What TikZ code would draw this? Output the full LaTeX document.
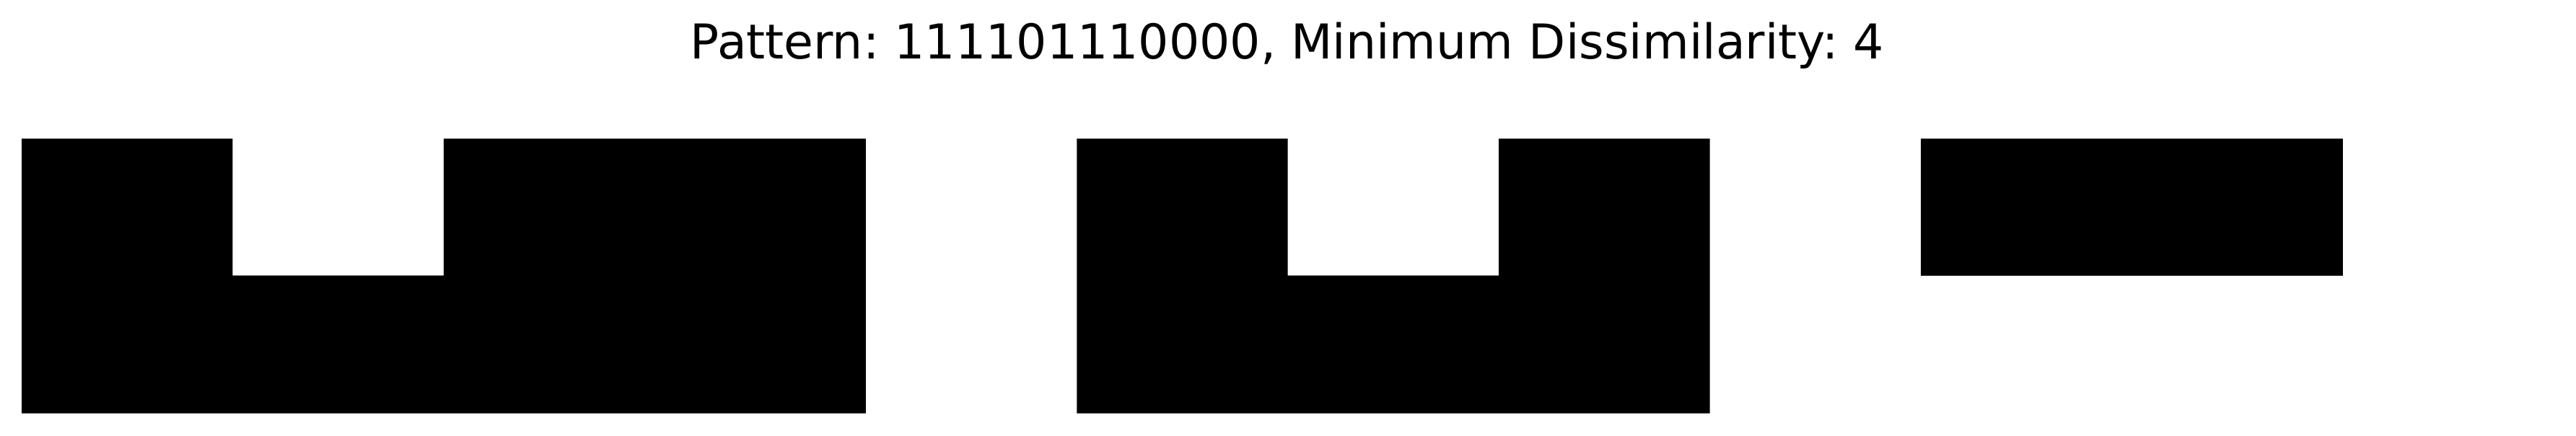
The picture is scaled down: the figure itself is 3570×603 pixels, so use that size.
\documentclass[tikz,border=0pt]{standalone}
\usepackage{fontspec}
\setmainfont{DejaVu Sans}
\frenchspacing
\begin{document}
\begin{tikzpicture}[x=1pt,y=-1pt,cell/.style={fill=black,draw=none}]
\useasboundingbox (0,0) rectangle (3570,603);
\def\ya{192}\def\yb{381.7}\def\yc{572.7}
% shape 1: columns 0-3
\fill[cell] (30,\ya) -- (322.45,\ya) -- (322.45,\yb) -- (614.9,\yb) -- (614.9,\ya) -- (1199.8,\ya) -- (1199.8,\yc) -- (30,\yc) -- cycle;
% shape 2: columns 5-7
\fill[cell] (1492.25,\ya) -- (1784.7,\ya) -- (1784.7,\yb) -- (2077.15,\yb) -- (2077.15,\ya) -- (2369.6,\ya) -- (2369.6,\yc) -- (1492.25,\yc) -- cycle;
% shape 3: columns 9-10 top row
\fill[cell] (2662.05,\ya) rectangle (3246.95,\yb);
\node[anchor=base,inner sep=0pt,font=\frenchspacing\fontsize{66.5}{80}\selectfont] (title) at (1784,81.7) {Pattern: 111101110000, Minimum Dissimilarity: 4};
\end{tikzpicture}
\end{document}
